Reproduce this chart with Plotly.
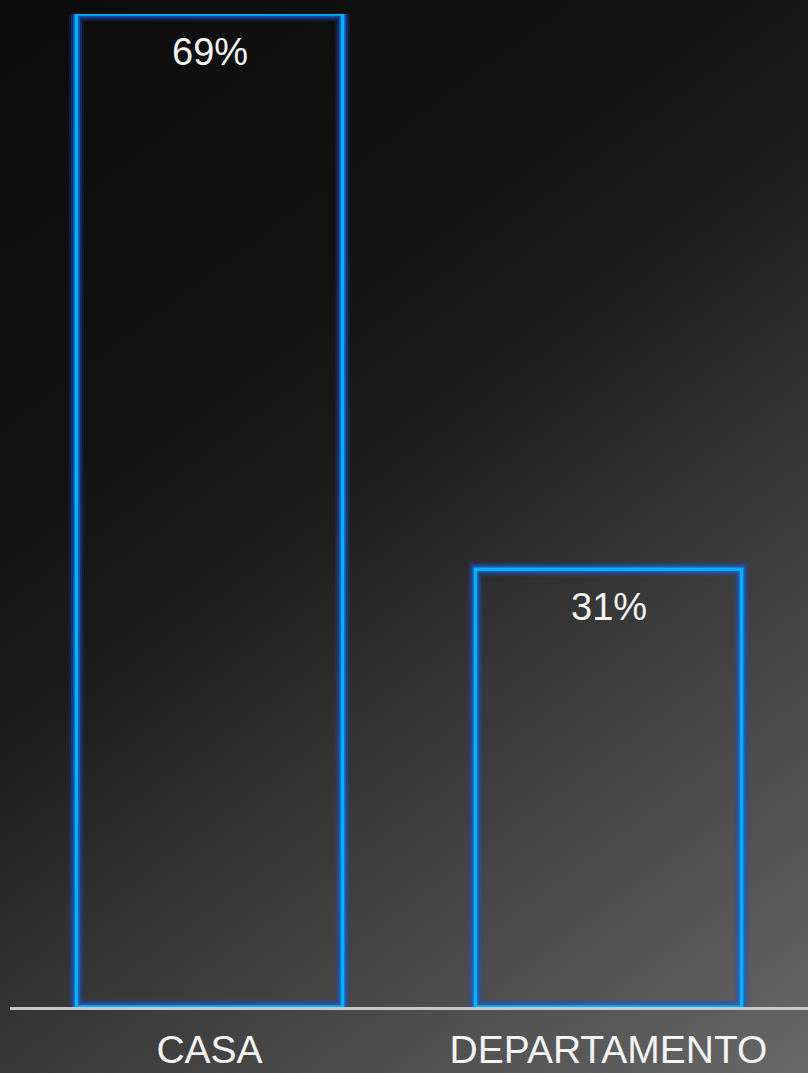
import base64
import plotly.graph_objects as go

categories = ["CASA", "DEPARTAMENTO"]
values = [69.4, 30.6]
labels = ["69%", "31%"]

W, H = 808, 1073
ML, MR, MT, MB = 10, 0, 14, 66
PW, PH = W - ML - MR, H - MT - MB

svg = f'''<svg xmlns="http://www.w3.org/2000/svg" width="{W}" height="{H}" viewBox="0 0 {W} {H}" preserveAspectRatio="none">
<defs><linearGradient id="g" gradientUnits="userSpaceOnUse" x1="0" y1="0" x2="{W}" y2="{H}">
<stop offset="0" stop-color="#0d0d0d"/>
<stop offset="0.3" stop-color="#121212"/>
<stop offset="0.45" stop-color="#1d1d1d"/>
<stop offset="0.6" stop-color="#333333"/>
<stop offset="0.75" stop-color="#474747"/>
<stop offset="1" stop-color="#686868"/>
</linearGradient></defs>
<rect x="0" y="0" width="{W}" height="{H}" fill="url(#g)"/>
</svg>'''
src = "data:image/svg+xml;base64," + base64.b64encode(svg.encode()).decode()

fig = go.Figure()
glows = [(15, "rgba(20,80,200,0.18)"), (11, "rgba(25,90,215,0.32)"), (7, "rgba(30,100,225,0.55)")]
for w, c in glows:
    fig.add_trace(go.Bar(x=categories, y=values, width=0.667,
                         marker=dict(color="rgba(0,0,0,0)", line=dict(color=c, width=w)),
                         hoverinfo="skip", showlegend=False))
fig.add_trace(go.Bar(x=categories, y=values, width=0.667,
                     marker=dict(color="rgba(0,0,0,0)", line=dict(color="#00b4f4", width=3.5)),
                     showlegend=False))

for cat, v, t in zip(categories, values, labels):
    fig.add_annotation(x=cat, y=v, text=t, showarrow=False, yanchor="top", yshift=-15,
                       font=dict(family="Liberation Sans, Arial, sans-serif", size=38, color="#f4f4f4"))

fig.update_layout(
    width=W, height=H,
    margin=dict(l=ML, r=MR, t=MT, b=MB),
    paper_bgcolor="#0d0d0d", plot_bgcolor="rgba(0,0,0,0)",
    barmode="overlay",
    images=[dict(source=src, xref="paper", yref="paper",
                 x=-ML / PW, y=1 + MT / PH, sizex=W / PW, sizey=H / PH,
                 xanchor="left", yanchor="top", sizing="stretch", layer="below")],
    xaxis=dict(showgrid=False, showline=True, linecolor="#c8c8c8", linewidth=3,
               ticks="", ticklabelstandoff=6,
               tickfont=dict(family="Liberation Sans, Arial, sans-serif", size=39, color="#f4f4f4"),
               range=[-0.5, 1.5], fixedrange=True),
    yaxis=dict(visible=False, range=[0, 69.4], fixedrange=True),
    showlegend=False,
)

fig.write_html("out.html", config={"displayModeBar": False},
               post_script="document.body.style.margin='0';document.body.style.background='#0d0d0d';")
